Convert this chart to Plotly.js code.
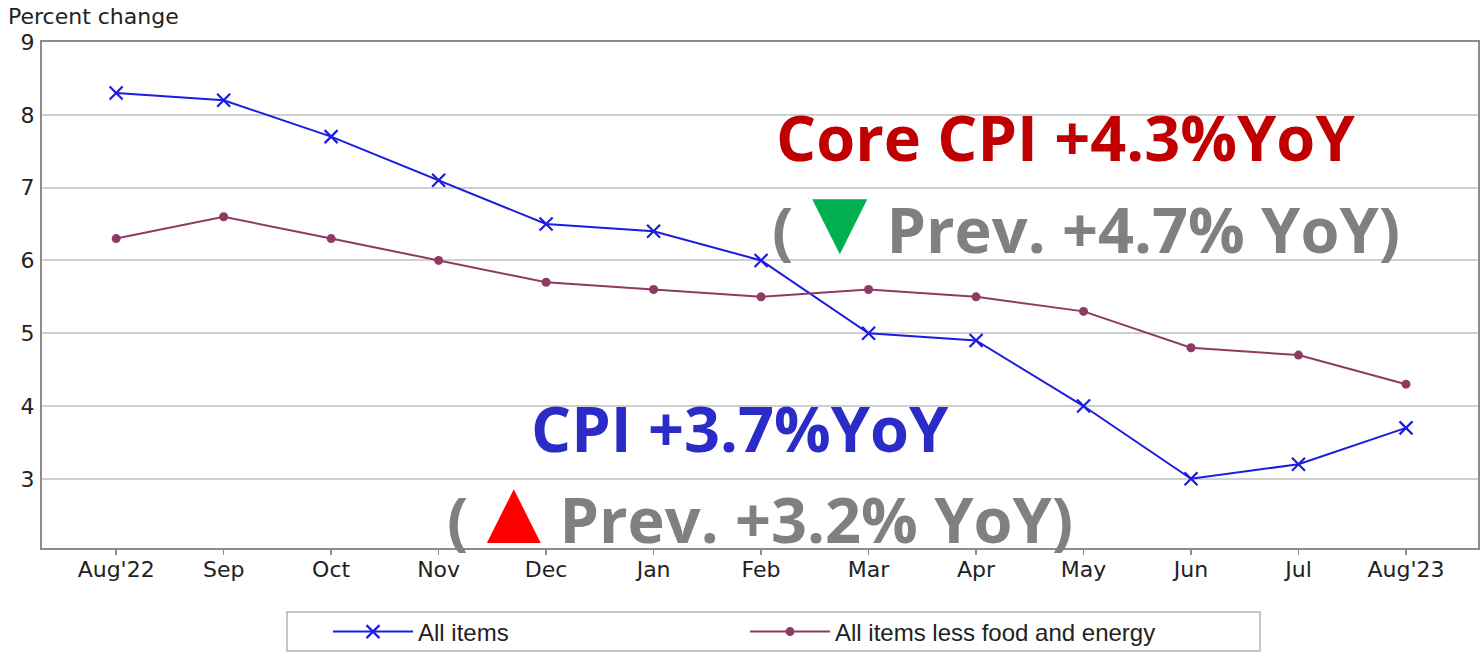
<!DOCTYPE html>
<html>
<head>
<meta charset="utf-8">
<script src="https://cdn.plot.ly/plotly-3.0.1.min.js"></script>
<style>html,body{margin:0;padding:0;background:#fff;}#chart{width:1483px;height:671px;}</style>
</head>
<body>
<div id="chart"></div>
<script>
const months = ["Aug'22","Sep","Oct","Nov","Dec","Jan","Feb","Mar","Apr","May","Jun","Jul","Aug'23"];
const allItems = [8.3, 8.2, 7.7, 7.1, 6.5, 6.4, 6.0, 5.0, 4.9, 4.0, 3.0, 3.2, 3.7];
const coreItems = [6.3, 6.6, 6.3, 6.0, 5.7, 5.6, 5.5, 5.6, 5.5, 5.3, 4.8, 4.7, 4.3];
const seriesNames = ["All items", "All items less food and energy"];
const yTicks = [3, 4, 5, 6, 7, 8, 9];

const idx = months.map((m, i) => i);
const W = 1483, H = 671, L = 42, R = 5, T = 42, B = 123;
const pw = W - L - R, ph = H - T - B;
const px = x => (x - L) / pw;
const py = y => (H - B - y) / ph;

const bigFont = "'Open Sans', sans-serif";
const bigSize = 63;

const traces = [
  {
    x: idx, y: allItems, name: seriesNames[0], type: 'scatter', mode: 'lines+markers',
    line: {color: '#1c1ce0', width: 2},
    marker: {symbol: 'x-thin-open', size: 13, color: '#1c1ce0', line: {color: '#1c1ce0', width: 2.2}}
  },
  {
    x: idx, y: coreItems, name: seriesNames[1], type: 'scatter', mode: 'lines+markers',
    line: {color: '#8e3a62', width: 2},
    marker: {symbol: 'circle', size: 9, color: '#8e3a62'}
  }
];

const layout = {
  width: W, height: H,
  margin: {l: L, r: R, t: T, b: B, pad: 0},
  paper_bgcolor: '#ffffff', plot_bgcolor: '#ffffff',
  showlegend: true,
  xaxis: {
    range: [-0.69, 12.67], tickmode: 'array', tickvals: idx, ticktext: months,
    showgrid: false, zeroline: false, showline: true, mirror: true,
    linecolor: '#8c8c8c', linewidth: 2,
    ticks: 'outside', ticklen: 5, tickcolor: '#8c8c8c', tickwidth: 1.5,
    ticklabelstandoff: -4,
    tickfont: {family: 'DejaVu Sans', size: 22, color: '#222'}
  },
  yaxis: {
    range: [2.05, 9], tickmode: 'array', tickvals: yTicks,
    showgrid: true, gridcolor: '#cfcfcf', gridwidth: 2, zeroline: false,
    showline: true, mirror: true, linecolor: '#8c8c8c', linewidth: 2,
    ticks: '', ticklabelstandoff: 1,
    tickfont: {family: 'DejaVu Sans', size: 22, color: '#222'}
  },
  legend: {
    orientation: 'h', xref: 'paper', yref: 'paper',
    x: px(328), xanchor: 'left', y: py(632), yanchor: 'middle',
    borderwidth: 0, bgcolor: 'rgba(0,0,0,0)',
    font: {family: 'Liberation Sans', size: 24, color: '#222'},
    entrywidth: 322, entrywidthmode: 'pixels', itemwidth: 80, tracegroupgap: 0
  },
  shapes: [
    {type: 'rect', xref: 'paper', yref: 'paper', x0: px(287), x1: px(1260), y0: py(612), y1: py(651),
     line: {color: '#b4b4b4', width: 1.5}, fillcolor: 'rgba(0,0,0,0)', layer: 'below'}
  ],
  annotations: [
    {text: 'Percent change', xref: 'paper', yref: 'paper', x: px(6), y: py(16),
     xanchor: 'left', yanchor: 'middle', showarrow: false,
     font: {family: 'DejaVu Sans', size: 22, color: '#222'}},
    {text: '<b>Core CPI +4.3%YoY</b>', xref: 'paper', yref: 'paper', x: px(1065), y: py(136),
     xanchor: 'center', yanchor: 'middle', showarrow: false,
     font: {family: bigFont, size: bigSize, color: '#c00000'}},
    {text: '<b>(<span style="color:#00b050;font-size:94px">▼</span>Prev. +4.7% YoY)</b>', xref: 'paper', yref: 'paper', x: px(1086), y: py(217),
     xanchor: 'center', yanchor: 'middle', showarrow: false,
     font: {family: bigFont, size: bigSize, color: '#808080'}},
    {text: '<b>CPI +3.7%YoY</b>', xref: 'paper', yref: 'paper', x: px(740), y: py(427),
     xanchor: 'center', yanchor: 'middle', showarrow: false,
     font: {family: bigFont, size: bigSize, color: '#2b2bc8'}},
    {text: '<b>(<span style="color:#ff0000;font-size:92px">▲</span>Prev. +3.2% YoY)</b>', xref: 'paper', yref: 'paper', x: px(760), y: py(507),
     xanchor: 'center', yanchor: 'middle', showarrow: false,
     font: {family: bigFont, size: bigSize, color: '#808080'}}
  ]
};

Plotly.newPlot('chart', traces, layout, {displayModeBar: false, staticPlot: true});
</script>
</body>
</html>
